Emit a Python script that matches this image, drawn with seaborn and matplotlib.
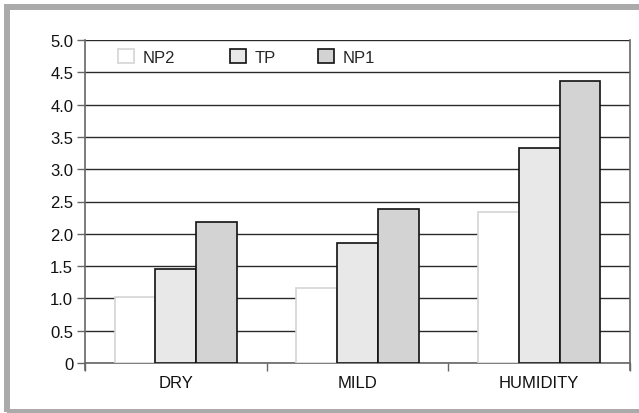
import matplotlib
matplotlib.use("Agg")
import matplotlib.pyplot as plt
import seaborn as sns
import pandas as pd
from matplotlib.patches import Patch, Rectangle
from matplotlib.ticker import FuncFormatter, MultipleLocator

categories = ["DRY", "MILD", "HUMIDITY"]
series = ["NP2", "TP", "NP1"]
np2 = [1.02, 1.16, 2.34]
tp = [1.46, 1.86, 3.33]
np1 = [2.18, 2.38, 4.36]
face_colors = ["#ffffff", "#e8e8e8", "#d3d3d3"]
edge_colors = ["#d4d4d4", "#111111", "#111111"]

rows = []
for s, vals in zip(series, [np2, tp, np1]):
    for c, v in zip(categories, vals):
        rows.append({"cat": c, "series": s, "value": v})
df = pd.DataFrame(rows)

sns.set_style("white")
plt.rcParams["font.family"] = ["Liberation Sans", "DejaVu Sans"]
FS = 12

fig = plt.figure(figsize=(6.39, 4.14), dpi=100)
ax = fig.add_axes([85 / 639, 50 / 414, 545 / 639, 323 / 414])

sns.barplot(data=df, x="cat", y="value", hue="series", order=categories,
            hue_order=series, palette=face_colors, width=0.675, gap=0,
            ax=ax, legend=False, saturation=1, zorder=3)

for cont, ec in zip(ax.containers, edge_colors):
    for p in cont:
        p.set_edgecolor(ec)
        p.set_linewidth(1.2)

ax.set_xlim(-0.5, 2.5)
ax.set_ylim(0, 5.0)
ax.yaxis.set_major_locator(MultipleLocator(0.5))
ax.yaxis.set_major_formatter(FuncFormatter(lambda v, p: "0" if abs(v) < 1e-9 else f"{v:.1f}"))
ax.grid(axis="y", color="#2a2a2a", linewidth=1.0, zorder=0)
ax.set_axisbelow(True)
ax.set_xlabel("")
ax.set_ylabel("")

ax.set_xticks([-0.5, 0.5, 1.5, 2.5])
ax.set_xticklabels([])
ax.set_xticks([0, 1, 2], minor=True)
ax.set_xticklabels(categories, minor=True)
ax.tick_params(axis="x", which="major", direction="out", length=6, width=1, color="#666666", bottom=True)
ax.tick_params(axis="x", which="minor", length=0, pad=9, labelsize=FS, labelcolor="#111111")
ax.tick_params(axis="y", direction="out", length=6, width=1, color="#666666", left=True,
               labelsize=FS, labelcolor="#111111", pad=2.5)

for side in ["left", "bottom", "right"]:
    ax.spines[side].set_visible(True)
    ax.spines[side].set_color("#666666")
    ax.spines[side].set_linewidth(1.2)
ax.spines["top"].set_visible(False)
ax.spines["left"].set_bounds(-0.11, 5.0)
ax.spines["right"].set_bounds(-0.11, 5.0)

# legend entries placed individually
leg_x = [(118 - 85) / 545, (230 - 85) / 545, (318 - 85) / 545]
for i, (s, f, e) in enumerate(zip(series, face_colors, edge_colors)):
    h = Patch(facecolor=f, edgecolor=e, linewidth=1.2)
    lg = ax.legend([h], [s], loc="upper left", bbox_to_anchor=(leg_x[i], 1 - 9 / 323),
                   frameon=False, handlelength=0.95, handleheight=0.95, handletextpad=0.55,
                   fontsize=FS, borderaxespad=0, borderpad=0)
    if i < len(series) - 1:
        ax.add_artist(lg)

fig.patches.append(Rectangle((6.5 / 639, 1.5 / 414), 1.1, 404.5 / 414,
                             transform=fig.transFigure, fill=False, edgecolor="#aaaaaa",
                             linewidth=4.3, zorder=-1))

fig.savefig("out.png", dpi=100)
